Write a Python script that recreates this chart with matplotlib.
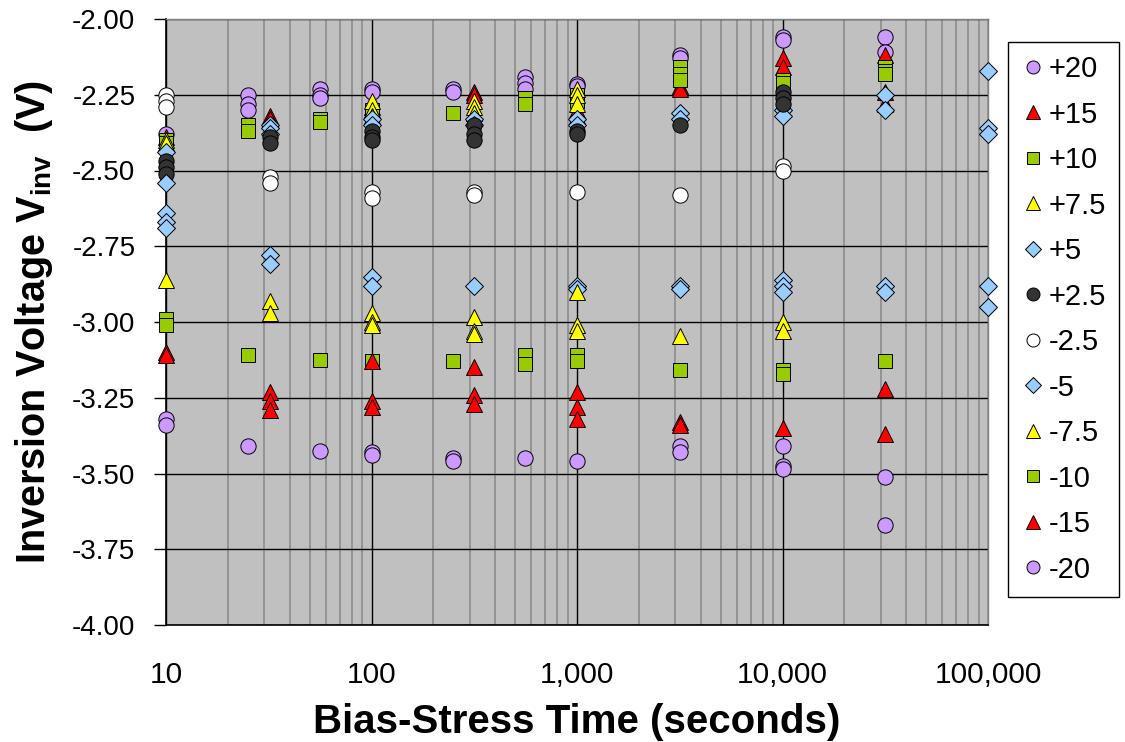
import numpy as np
import matplotlib
matplotlib.use("Agg")
import matplotlib.pyplot as plt
import matplotlib.ticker as ticker

plt.rcParams['font.family'] = ['Liberation Sans', 'DejaVu Sans']
plt.rcParams['mathtext.fontset'] = 'custom'
plt.rcParams['mathtext.rm'] = 'Liberation Sans'
plt.rcParams['mathtext.bf'] = 'Liberation Sans:bold'

# stress times (s) and measured inversion voltages (V) for each bias
t_p20 = [10, 25, 25, 25, 56, 56, 56, 100, 100, 250, 250, 560, 560, 560, 1000, 1000, 3162, 3162, 10000, 10000, 31623, 31623]
v_p20 = [-2.38, -2.25, -2.28, -2.30, -2.23, -2.25, -2.26, -2.23, -2.24, -2.23, -2.24, -2.19, -2.21, -2.23, -2.215, -2.22, -2.12, -2.13, -2.06, -2.07, -2.06, -2.11]

t_p15 = [10, 32, 32, 100, 100, 316, 316, 1000, 1000, 3162, 3162, 10000, 10000, 31623, 31623, 31623]
v_p15 = [-2.39, -2.32, -2.33, -2.29, -2.30, -2.24, -2.25, -2.30, -2.32, -2.22, -2.23, -2.13, -2.16, -2.12, -2.24, -2.28]

t_p10 = [10, 10, 25, 25, 56, 56, 100, 100, 250, 560, 560, 1000, 1000, 3162, 3162, 3162, 10000, 10000, 31623, 31623, 31623]
v_p10 = [-2.40, -2.41, -2.35, -2.37, -2.33, -2.34, -2.30, -2.32, -2.31, -2.26, -2.28, -2.25, -2.27, -2.16, -2.18, -2.20, -2.20, -2.21, -2.16, -2.17, -2.18]

t_p75 = [10, 10, 100, 100, 100, 316, 316, 316, 1000, 1000, 1000]
v_p75 = [-2.40, -2.41, -2.27, -2.30, -2.32, -2.27, -2.29, -2.31, -2.23, -2.25, -2.28]

t_p5 = [10, 32, 32, 32, 100, 100, 316, 316, 1000, 1000, 3162, 3162, 10000, 10000, 31623, 31623, 100000, 100000, 100000]
v_p5 = [-2.44, -2.35, -2.36, -2.38, -2.33, -2.35, -2.33, -2.35, -2.33, -2.35, -2.31, -2.33, -2.30, -2.32, -2.25, -2.30, -2.17, -2.36, -2.38]

t_p25 = [10, 10, 10, 32, 32, 100, 100, 100, 316, 316, 316, 1000, 1000, 3162, 10000, 10000, 10000]
v_p25 = [-2.47, -2.49, -2.51, -2.39, -2.41, -2.37, -2.39, -2.40, -2.35, -2.38, -2.40, -2.37, -2.38, -2.35, -2.24, -2.26, -2.28]

t_m25 = [10, 10, 10, 32, 32, 100, 100, 316, 316, 1000, 3162, 10000, 10000]
v_m25 = [-2.25, -2.27, -2.29, -2.52, -2.54, -2.57, -2.59, -2.57, -2.58, -2.57, -2.58, -2.485, -2.50]

t_m5 = [10, 10, 10, 10, 32, 32, 100, 100, 316, 1000, 1000, 3162, 3162, 10000, 10000, 10000, 31623, 31623, 100000, 100000]
v_m5 = [-2.54, -2.64, -2.67, -2.69, -2.78, -2.81, -2.85, -2.88, -2.88, -2.88, -2.89, -2.88, -2.89, -2.86, -2.88, -2.90, -2.88, -2.90, -2.88, -2.95]

t_m75 = [10, 32, 32, 100, 100, 100, 316, 316, 316, 1000, 1000, 1000, 3162, 10000, 10000]
v_m75 = [-2.86, -2.93, -2.97, -2.97, -3.00, -3.01, -2.985, -3.03, -3.04, -2.90, -3.01, -3.03, -3.045, -3.00, -3.03]

t_m10 = [10, 10, 25, 56, 100, 250, 560, 560, 1000, 1000, 3162, 10000, 10000, 31623]
v_m10 = [-2.99, -3.01, -3.11, -3.125, -3.13, -3.13, -3.11, -3.14, -3.11, -3.13, -3.16, -3.16, -3.17, -3.13]

t_m15 = [10, 10, 32, 32, 32, 100, 100, 100, 316, 316, 316, 1000, 1000, 1000, 3162, 3162, 10000, 31623, 31623]
v_m15 = [-3.10, -3.11, -3.23, -3.26, -3.29, -3.13, -3.26, -3.28, -3.15, -3.24, -3.27, -3.23, -3.28, -3.32, -3.33, -3.34, -3.35, -3.22, -3.37]

t_m20 = [10, 10, 25, 56, 100, 100, 250, 250, 560, 1000, 3162, 3162, 10000, 10000, 10000, 31623, 31623]
v_m20 = [-3.32, -3.34, -3.41, -3.425, -3.43, -3.44, -3.45, -3.46, -3.45, -3.46, -3.41, -3.43, -3.41, -3.475, -3.485, -3.51, -3.67]

labels = ['+20', '+15', '+10', '+7.5', '+5', '+2.5', '-2.5', '-5', '-7.5', '-10', '-15', '-20']
times = [t_p20, t_p15, t_p10, t_p75, t_p5, t_p25, t_m25, t_m5, t_m75, t_m10, t_m15, t_m20]
volts = [v_p20, v_p15, v_p10, v_p75, v_p5, v_p25, v_m25, v_m5, v_m75, v_m10, v_m15, v_m20]

purple = '#CC99FF'
red = '#FF0000'
green = '#99CC00'
yellow = '#FFFF00'
blue = '#99CCFF'
dark = '#333333'
white = '#FFFFFF'
styles = [('o', purple, 11), ('^', red, 11.5), ('s', green, 10.5), ('^', yellow, 11.5),
          ('D', blue, 9), ('o', dark, 11), ('o', white, 11), ('D', blue, 9),
          ('^', yellow, 11.5), ('s', green, 10.5), ('^', red, 11.5), ('o', purple, 11)]

fig = plt.figure(figsize=(11.25, 7.42), dpi=100)
ax = fig.add_axes([166/1125, 1 - 625/742, (988-166)/1125, (625-19)/742])
ax.set_facecolor('#C0C0C0')

for t, v, lab, (m, c, ms) in zip(times, volts, labels, styles):
    ax.plot(t, v, linestyle='none', marker=m, markersize=ms, markerfacecolor=c,
            markeredgecolor='black', markeredgewidth=0.7, label=lab, clip_on=False, zorder=3)

ax.set_xscale('log')
ax.set_xlim(10, 100000)
ax.set_ylim(-4.0, -2.0)
ax.set_yticks(np.arange(-4.0, -1.99, 0.25))
ax.yaxis.set_major_formatter(ticker.FormatStrFormatter('%.2f'))
ax.xaxis.set_major_formatter(ticker.FuncFormatter(lambda v, p: f"{int(round(v)):,}"))
ax.xaxis.set_minor_locator(ticker.LogLocator(base=10, subs=np.arange(2, 10)))
ax.xaxis.set_minor_formatter(ticker.NullFormatter())

ax.grid(True, which='minor', axis='x', color='#8c8c8c', linewidth=1.2, zorder=0)
ax.grid(True, which='major', axis='both', color='black', linewidth=1.0, zorder=1)
ax.set_axisbelow(True)

ax.tick_params(axis='y', which='major', direction='out', length=9, width=1, pad=13, labelsize=20)
ax.tick_params(axis='x', which='both', length=0, pad=26, labelsize=21.5)

for s in ['left', 'bottom']:
    ax.spines[s].set_color('black')
    ax.spines[s].set_linewidth(1.2)
for s in ['top', 'right']:
    ax.spines[s].set_color('#808080')
    ax.spines[s].set_linewidth(1.0)

ax.set_xlabel('Bias-Stress Time (seconds)', fontsize=29, fontweight='bold', labelpad=10)
ax.set_ylabel(r'Inversion Voltage $\mathbf{V_{inv}}$  (V)', fontsize=28.5, fontweight='bold', labelpad=12)

leg = fig.legend(loc='upper left', bbox_to_anchor=(1008/1125, 1 - 42/742), borderaxespad=0,
                 fontsize=21, markerscale=0.85, labelspacing=0.6, handlelength=0.8,
                 handletextpad=0.15, borderpad=0.45, fancybox=False, framealpha=1)
leg.get_frame().set_edgecolor('black')
leg.get_frame().set_linewidth(1.0)

fig.savefig('out.png', dpi=100)
